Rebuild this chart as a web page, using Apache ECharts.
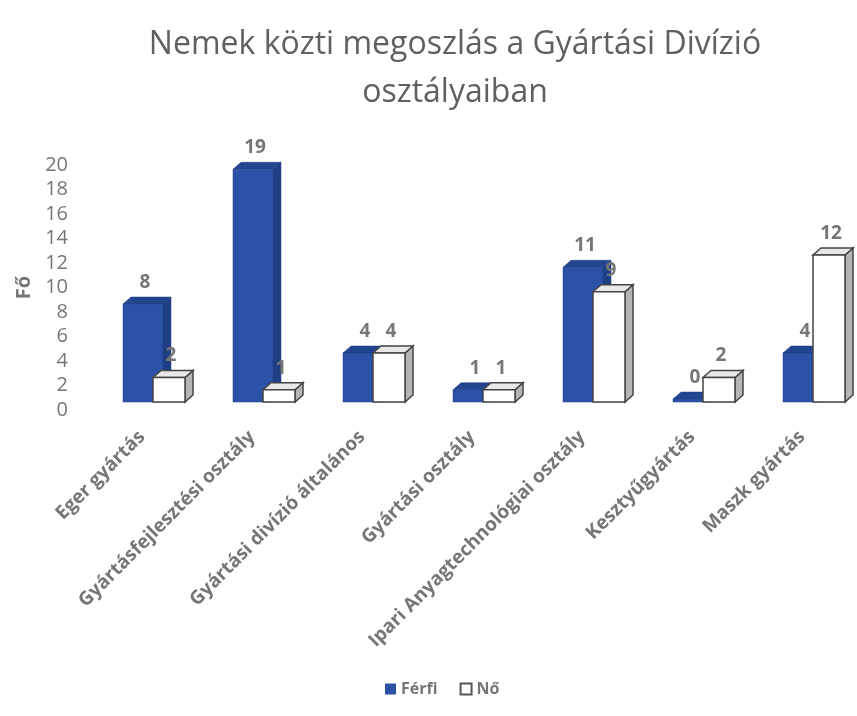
<!DOCTYPE html>
<html>
<head>
<meta charset="utf-8">
<script src="https://cdn.jsdelivr.net/npm/echarts@6/dist/echarts.min.js"></script>
<style>
  html, body { margin: 0; padding: 0; background: #fff; }
  #chart { width: 857px; height: 716px; }
</style>
</head>
<body>
<div id="chart"></div>
<script>
// Adatok
const categories = [
  'Eger gyártás',
  'Gyártásfejlesztési osztály',
  'Gyártási divízió általános',
  'Gyártási osztály',
  'Ipari Anyagtechnológiai osztály',
  'Kesztyűgyártás',
  'Maszk gyártás'
]
const ferfi = [8, 19, 4, 1, 11, 0, 4]
const no = [2, 1, 4, 1, 9, 2, 12]
const yTicks = [0, 20, 2]   // min, max, interval

const GRAY = '#767676'
const BLUE = '#2c52a8'
const DEPTH_X = 8
const DEPTH_Y = 7
const LIFT = 8   // perspektíva miatti eltolás felfelé

// 3D oszlop rajzolása
function makeRender(offsetLeft, offsetRight, colors) {
  return function (params, api) {
    const idx = api.value(0)
    const val = api.value(1)
    const top = api.coord([idx, val])
    const base = api.coord([idx, 0])
    const x0 = top[0] + offsetLeft
    const x1 = top[0] + offsetRight
    const yBot = base[1] - LIFT
    let yTop = top[1] - LIFT
    if (yBot - yTop < 3) yTop = yBot - 3
    const children = [
      {
        type: 'polygon',
        shape: { points: [[x1, yTop], [x1 + DEPTH_X, yTop - DEPTH_Y], [x1 + DEPTH_X, yBot - DEPTH_Y], [x1, yBot]] },
        style: { fill: colors.side, stroke: colors.stroke, lineWidth: colors.lw }
      },
      {
        type: 'polygon',
        shape: { points: [[x0, yTop], [x0 + DEPTH_X, yTop - DEPTH_Y], [x1 + DEPTH_X, yTop - DEPTH_Y], [x1, yTop]] },
        style: { fill: colors.top, stroke: colors.stroke, lineWidth: colors.lw }
      },
      {
        type: 'rect',
        shape: { x: x0, y: yTop, width: x1 - x0, height: yBot - yTop },
        style: { fill: colors.front, stroke: colors.stroke, lineWidth: colors.lw }
      },
      {
        type: 'text',
        style: {
          text: String(val),
          x: (x0 + x1) / 2 + 2,
          y: yTop - DEPTH_Y - 5,
          align: 'center',
          verticalAlign: 'bottom',
          fill: GRAY,
          font: 'bold 19px "Open Sans", sans-serif'
        }
      }
    ]
    return { type: 'group', children: children }
  }
}

const chart = echarts.init(document.getElementById('chart'))

const option = {
  backgroundColor: '#fff',
  title: {
    text: 'Nemek közti megoszlás a Gyártási Divízió\nosztályaiban',
    left: 450,
    textAlign: 'center',
    top: 16,
    textStyle: {
      color: '#606060',
      fontSize: 32,
      fontWeight: 'normal',
      fontFamily: '"Open Sans", sans-serif',
      lineHeight: 48
    }
  },
  legend: {
    bottom: 14,
    left: 380,
    itemWidth: 11,
    itemHeight: 11,
    itemGap: 22,
    textStyle: { color: GRAY, fontSize: 16, fontWeight: 'bold', fontFamily: '"Open Sans", sans-serif' },
    data: [
      { name: 'Férfi', icon: 'rect', itemStyle: { color: BLUE } },
      { name: 'Nő', icon: 'rect', itemStyle: { color: '#fff', borderColor: '#555', borderWidth: 2 } }
    ]
  },
  grid: { left: 87, right: 0, top: 165, bottom: 306 },
  xAxis: {
    type: 'category',
    data: categories,
    axisLine: { show: false },
    axisTick: { show: false },
    axisLabel: {
      rotate: 45,
      interval: 0,
      margin: 24,
      color: GRAY,
      fontSize: 19,
      fontWeight: 'bold',
      fontFamily: '"Open Sans", sans-serif'
    }
  },
  yAxis: {
    type: 'value',
    min: yTicks[0],
    max: yTicks[1],
    interval: yTicks[2],
    name: 'Fő',
    nameLocation: 'middle',
    nameGap: 52,
    nameRotate: 90,
    nameTextStyle: { color: GRAY, fontSize: 20, fontWeight: 'bold', fontFamily: '"Open Sans", sans-serif' },
    axisLine: { show: false },
    axisTick: { show: false },
    splitLine: { show: false },
    axisLabel: {
      margin: 19,
      color: GRAY,
      fontSize: 20,
      fontFamily: '"Open Sans", sans-serif'
    }
  },
  series: [
    {
      name: 'Férfi',
      type: 'custom',
      itemStyle: { color: BLUE },
      encode: { x: 0, y: 1 },
      data: ferfi.map((v, i) => [i, v]),
      renderItem: makeRender(-19, 21, { front: BLUE, top: '#21458f', side: '#1f3f85', stroke: '#1f3f85', lw: 0.5 })
    },
    {
      name: 'Nő',
      type: 'custom',
      itemStyle: { color: '#fff', borderColor: '#555' },
      encode: { x: 0, y: 1 },
      data: no.map((v, i) => [i, v]),
      renderItem: makeRender(11, 43, { front: '#ffffff', top: '#e8e8e8', side: '#b5b5b5', stroke: '#444', lw: 1.5 })
    }
  ]
}

chart.setOption(option)
</script>
</body>
</html>
